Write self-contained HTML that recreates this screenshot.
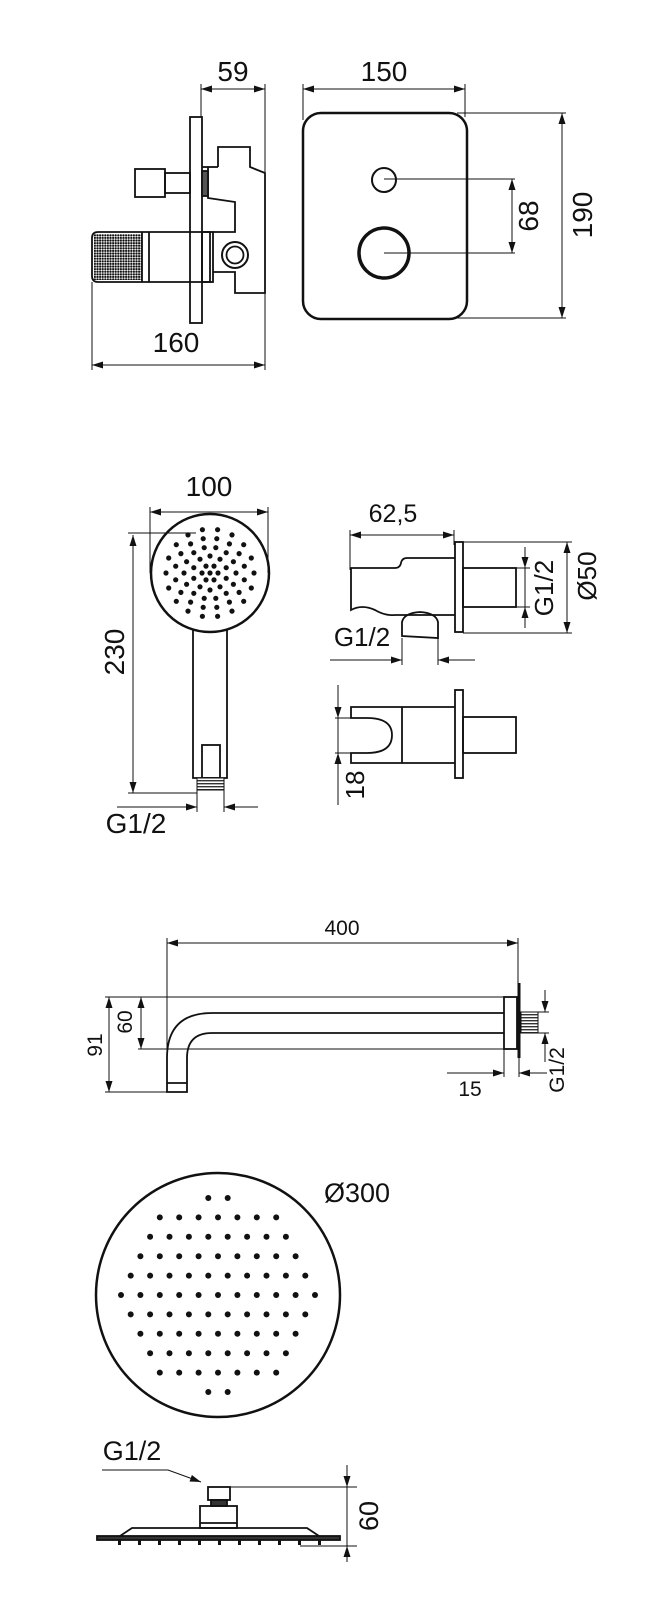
<!DOCTYPE html>
<html><head><meta charset="utf-8"><style>
html,body{margin:0;padding:0;background:#fff;}
svg{display:block;}
text{font-family:"Liberation Sans",sans-serif;fill:#111;}
</style></head><body>
<svg id="s" width="668" height="1600" viewBox="0 0 668 1600" xmlns="http://www.w3.org/2000/svg">
<defs>
<marker id="a" markerUnits="userSpaceOnUse" markerWidth="12" markerHeight="8" refX="11" refY="3.5" orient="auto-start-reverse"><path d="M0,0 L11,3.5 L0,7 z" fill="#111"/></marker>
<pattern id="kn" width="2.6" height="2.6" patternUnits="userSpaceOnUse"><rect width="2.6" height="2.6" fill="#fff"/><circle cx="1.3" cy="1.3" r="1.1" fill="#111"/></pattern>
<pattern id="th" width="3" height="3" patternUnits="userSpaceOnUse"><rect width="3" height="3" fill="#fff"/><rect width="3" height="1.4" fill="#333"/></pattern>
</defs>
<g fill="none" stroke="#111" stroke-width="1">
<line x1="201" y1="84" x2="201" y2="117"/><line x1="265" y1="84" x2="265" y2="295"/>
<line x1="201" y1="89" x2="265" y2="89" marker-start="url(#a)" marker-end="url(#a)"/>
<line x1="92" y1="282" x2="92" y2="370"/><line x1="265" y1="295" x2="265" y2="370"/>
<line x1="92" y1="365" x2="265" y2="365" marker-start="url(#a)" marker-end="url(#a)"/>
<line x1="303" y1="84" x2="303" y2="120"/><line x1="465" y1="84" x2="465" y2="117"/>
<line x1="303" y1="89" x2="465" y2="89" marker-start="url(#a)" marker-end="url(#a)"/>
<line x1="457" y1="113" x2="566" y2="113"/><line x1="457" y1="318" x2="566" y2="318"/>
<line x1="562" y1="113" x2="562" y2="318" marker-start="url(#a)" marker-end="url(#a)"/>
<line x1="384" y1="179" x2="515" y2="179"/><line x1="384" y1="253" x2="515" y2="253"/>
<line x1="512" y1="179" x2="512" y2="253" marker-start="url(#a)" marker-end="url(#a)"/>
<g stroke-width="1.8">
<rect x="190" y="117" width="12" height="206"/>
<polyline points="218,167 218,147 250,147 250,167 265,173 265,293 235,293 235,272 213,272"/>
<polyline points="202,167 208,167 218,167"/>
<polyline points="208,167 208,198 235,202 235,232 213,232"/>
<rect x="135" y="169" width="30" height="28"/>
<rect x="165" y="173" width="25" height="20"/>
<rect x="202" y="171" width="6" height="25" fill="#555"/>
<path d="M98,232 L210,232 L210,282 L98,282 Q92,282 92,276 L92,238 Q92,232 98,232 z"/>
<rect x="94" y="234" width="48" height="46" fill="url(#kn)" stroke="none"/>
<line x1="142" y1="232" x2="142" y2="282"/><line x1="149" y1="232" x2="149" y2="282"/>
<rect x="202" y="232" width="11" height="50"/>
<circle cx="235" cy="255" r="13" stroke-width="2"/><circle cx="235" cy="255" r="8.5"/>
</g>
<rect x="303" y="113" width="164" height="206" rx="18" stroke-width="2.5"/>
<circle cx="384" cy="180" r="12" stroke-width="2"/>
<circle cx="384" cy="253" r="25" stroke-width="3.5"/>

<line x1="150" y1="507" x2="150" y2="573"/><line x1="268" y1="507" x2="268" y2="573"/>
<line x1="150" y1="512" x2="268" y2="512" marker-start="url(#a)" marker-end="url(#a)"/>
<line x1="128" y1="533" x2="196" y2="533"/><line x1="128" y1="793" x2="197" y2="793"/>
<line x1="133" y1="535" x2="133" y2="793" marker-start="url(#a)" marker-end="url(#a)"/>
<line x1="197" y1="790" x2="197" y2="812"/><line x1="224" y1="790" x2="224" y2="812"/>
<line x1="117" y1="807" x2="197" y2="807" marker-end="url(#a)"/>
<line x1="258" y1="807" x2="224" y2="807" marker-end="url(#a)"/>
<circle cx="210" cy="573" r="59" stroke-width="2.5"/>
<g stroke-width="1.8">
<polyline points="193,629 193,778 227,778 227,629"/>
<rect x="202" y="745" width="18" height="33"/>
</g>
<rect x="197" y="778" width="27" height="12" fill="url(#th)"/>
<line x1="350" y1="530" x2="350" y2="570"/><line x1="454" y1="530" x2="454" y2="545"/>
<line x1="350" y1="535" x2="454" y2="535" marker-start="url(#a)" marker-end="url(#a)"/>
<line x1="463" y1="542" x2="572" y2="542"/><line x1="463" y1="633" x2="572" y2="633"/>
<line x1="567" y1="542" x2="567" y2="633" marker-start="url(#a)" marker-end="url(#a)"/>
<line x1="516" y1="568" x2="530" y2="568"/><line x1="516" y1="607" x2="530" y2="607"/>
<line x1="525" y1="547" x2="525" y2="568" marker-end="url(#a)"/>
<line x1="525" y1="628" x2="525" y2="607" marker-end="url(#a)"/>
<line x1="525" y1="568" x2="525" y2="607"/>
<line x1="402" y1="638" x2="402" y2="665"/><line x1="438" y1="630" x2="438" y2="665"/>
<line x1="330" y1="660" x2="402" y2="660" marker-end="url(#a)"/>
<line x1="475" y1="660" x2="438" y2="660" marker-end="url(#a)"/>
<g stroke-width="1.8">
<rect x="455" y="542" width="8" height="90"/>
<path d="M455,558 L407,558 Q402,558 401,563 Q400,568 395,568 L351,568 L351,610 Q362,604 375,610 Q385,616 395,615 L455,615"/>
<path d="M402,636 L402,622 Q404,613 420,612 Q436,613 438,622 L438,638 z"/>
<rect x="463" y="568" width="53" height="39"/>
<rect x="455" y="690" width="8" height="88"/>
<path d="M455,707 L351,707 L351,718 L367,718 Q392,718 392,735 Q392,753 367,753 L351,753 L351,763 L455,763"/>
<line x1="402" y1="707" x2="402" y2="763"/>
<rect x="463" y="717" width="53" height="36"/>
</g>
<line x1="335" y1="718" x2="351" y2="718"/><line x1="335" y1="753" x2="351" y2="753"/>
<line x1="338" y1="685" x2="338" y2="718" marker-end="url(#a)"/>
<line x1="338" y1="805" x2="338" y2="753" marker-end="url(#a)"/>
<line x1="338" y1="718" x2="338" y2="753"/>

<line x1="167" y1="938" x2="167" y2="1055"/><line x1="518" y1="938" x2="518" y2="983"/>
<line x1="167" y1="943" x2="518" y2="943" marker-start="url(#a)" marker-end="url(#a)"/>
<line x1="105" y1="997" x2="504" y2="997"/><line x1="138" y1="1049" x2="504" y2="1049"/>
<line x1="105" y1="1092" x2="187" y2="1092"/>
<line x1="109" y1="997" x2="109" y2="1092" marker-start="url(#a)" marker-end="url(#a)"/>
<line x1="141" y1="997" x2="141" y2="1049" marker-start="url(#a)" marker-end="url(#a)"/>
<line x1="504" y1="1049" x2="504" y2="1077"/><line x1="519" y1="1058" x2="519" y2="1077"/>
<line x1="447" y1="1073" x2="504" y2="1073" marker-end="url(#a)"/>
<line x1="547" y1="1073" x2="519" y2="1073" marker-end="url(#a)"/>
<line x1="538" y1="1012" x2="549" y2="1012"/><line x1="538" y1="1033" x2="549" y2="1033"/>
<line x1="545" y1="990" x2="545" y2="1012" marker-end="url(#a)"/>
<line x1="545" y1="1062" x2="545" y2="1033" marker-end="url(#a)"/>
<g stroke-width="1.8">
<path d="M504,1013 L212,1013 Q167,1013 167,1058 L167,1092 L187,1092 L187,1058 Q187,1033 212,1033 L504,1033"/>
<line x1="167" y1="1083" x2="187" y2="1083"/>
<rect x="504" y="997" width="13" height="52"/>
</g>
<line x1="519" y1="983" x2="519" y2="1058" stroke-width="3"/>
<rect x="521" y="1012" width="17" height="21" fill="url(#th)"/>

<circle cx="218" cy="1295" r="122" stroke-width="2.5"/>
<polyline points="102,1470 168,1470 201,1482" marker-end="url(#a)"/>
<line x1="230" y1="1487" x2="357" y2="1487"/><line x1="300" y1="1546" x2="357" y2="1546"/>
<line x1="347" y1="1465" x2="347" y2="1487" marker-end="url(#a)"/>
<line x1="347" y1="1562" x2="347" y2="1546" marker-end="url(#a)"/>
<line x1="347" y1="1487" x2="347" y2="1546"/>
<g stroke-width="1.8">
<rect x="208" y="1487" width="22" height="13"/>
<rect x="211" y="1500" width="16" height="6" fill="#333"/>
<rect x="200" y="1506" width="37" height="22"/>
<line x1="200" y1="1523" x2="237" y2="1523"/>
<polyline points="120,1536 132,1528 307,1528 319,1536"/>
<rect x="97" y="1536" width="243" height="4" fill="#333"/>
</g>
</g>
<g id="dots" fill="#111"></g>
<g fill="#111">
<rect x="118" y="1540" width="3" height="5"/><rect x="138" y="1540" width="3" height="5"/><rect x="158" y="1540" width="3" height="5"/><rect x="178" y="1540" width="3" height="5"/><rect x="198" y="1540" width="3" height="5"/><rect x="218" y="1540" width="3" height="5"/><rect x="238" y="1540" width="3" height="5"/><rect x="258" y="1540" width="3" height="5"/><rect x="278" y="1540" width="3" height="5"/><rect x="298" y="1540" width="3" height="5"/><rect x="318" y="1540" width="3" height="5"/>
</g>
<g font-size="28" text-anchor="middle">
<text x="233" y="81">59</text>
<text x="176" y="352">160</text>
<text x="384" y="81">150</text>
<text transform="translate(592,215) rotate(-90)">190</text>
<text transform="translate(538,216) rotate(-90)">68</text>
<text x="209" y="496">100</text>
<text transform="translate(124,652) rotate(-90)">230</text>
<text x="136" y="833">G1/2</text>
<text x="393" y="522" font-size="25">62,5</text>
<text transform="translate(553,588) rotate(-90)" font-size="26">G1/2</text>
<text transform="translate(596,576) rotate(-90)" font-size="26">Ø50</text>
<text x="362" y="646" font-size="26">G1/2</text>
<text transform="translate(364,785) rotate(-90)" font-size="26">18</text>
<text x="357" y="1202" font-size="27">Ø300</text>
<text x="132" y="1460" font-size="27">G1/2</text>
<text transform="translate(378,1516) rotate(-90)" font-size="27">60</text>
</g>
<g font-size="21" text-anchor="middle">
<text x="342" y="935">400</text>
<text transform="translate(102,1045) rotate(-90)">91</text>
<text transform="translate(132,1022) rotate(-90)">60</text>
<text x="470" y="1096">15</text>
<text transform="translate(564,1070) rotate(-90)">G1/2</text>
</g>
</svg>
<script>
(function(){
var g=document.getElementById('dots'),h='';
var cx=210,cy=573,R=[8,17,26,35,44],N=[6,10,14,16,18];
h+='<circle cx="'+cx+'" cy="'+cy+'" r="2.6"/>';
for(var i=0;i<R.length;i++){for(var k=0;k<N[i];k++){var t=2*Math.PI*k/N[i]+(i%2?Math.PI/N[i]:0);
h+='<circle cx="'+(cx+R[i]*Math.cos(t)).toFixed(1)+'" cy="'+(cy+R[i]*Math.sin(t)).toFixed(1)+'" r="2.6"/>';}}
var X=218,Y=1295,s=19.4;
for(var r=-5;r<=5;r++){for(var c=-6;c<=6;c++){var x=X+c*s+(Math.abs(r)%2?s/2:0),y=Y+r*s;
var d=Math.hypot(x-X,y-Y);if(d<=101&&!(c==6&&Math.abs(r)%2))h+='<circle cx="'+x.toFixed(1)+'" cy="'+y.toFixed(1)+'" r="3"/>';}}
g.innerHTML=h;
})();
</script>
</body></html>
